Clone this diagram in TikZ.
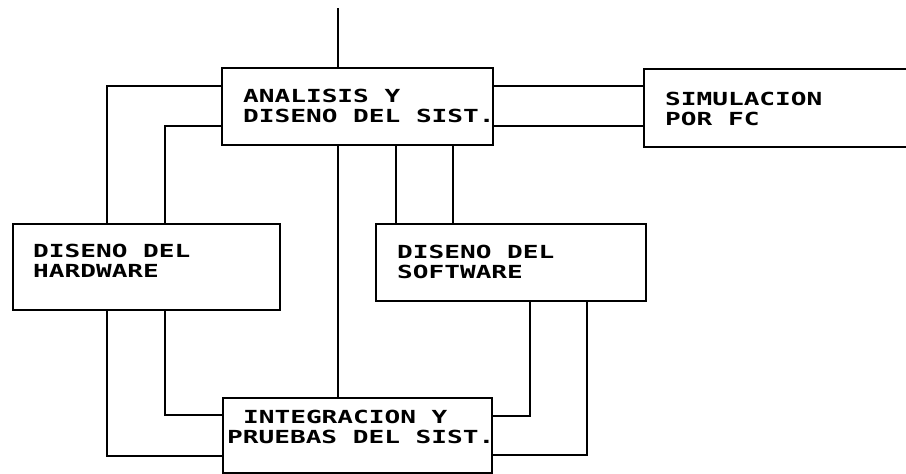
\documentclass[tikz,border=0pt]{standalone}
\usepackage{fontspec}
\newfontfamily\plotfont{DejaVu Sans Mono}
\newcommand\wide[1]{\scalebox{1.45}[1]{#1}}
\begin{document}
\begin{tikzpicture}[x=1pt,y=-1pt,
  box/.style={draw, line width=2.2pt, rectangle, inner sep=0pt, anchor=north west},
  lbl/.style={anchor=north west, inner sep=0pt, align=left,
              font=\plotfont\bfseries\fontsize{18}{20}\selectfont},
  wire/.style={line width=2.2pt}]
\clip (0,0) rectangle (906,474);
\fill[white] (0,0) rectangle (906,474);

% boxes
\node[box, minimum width=271pt, minimum height=77pt] (A) at (221,67) {};
\node[box, minimum width=272pt, minimum height=78pt] (S) at (643,68) {};
\node[box, minimum width=267pt, minimum height=86pt] (H) at (12,223) {};
\node[box, minimum width=270pt, minimum height=77pt] (W) at (375,223) {};
\node[box, minimum width=269pt, minimum height=75pt] (B) at (222,397) {};

% labels
\node[lbl] (tA) at (243,89) {\wide{ANALISIS Y}\\\wide{DISENO DEL SIST.}};
\node[lbl] (tS) at (665,92) {\wide{SIMULACION}\\\wide{POR FC}};
\node[lbl] (tH) at (33,244) {\wide{DISENO DEL}\\\wide{HARDWARE}};
\node[lbl] (tW) at (397,245) {\wide{DISENO DEL}\\\wide{SOFTWARE}};
\node[lbl] (tB) at (227,410) {\wide{\hspace*{11pt}INTEGRACION Y}\\\wide{PRUEBAS DEL SIST.}};

% guide coordinates
\coordinate (top) at (338,8);
\coordinate (g1) at (107,86);
\coordinate (g2) at (165,126);
\coordinate (g3) at (396,0);
\coordinate (g4) at (453,0);
\coordinate (g5) at (107,456);
\coordinate (g6) at (165,415);
\coordinate (g7) at (530,416);
\coordinate (g8) at (587,455);
\coordinate (gm) at (338,0);

% connectors
\draw[wire] (top) -- (A.north -| top);
\draw[wire] (A.west |- g1) -| (H.north -| g1);
\draw[wire] (A.west |- g2) -| (H.north -| g2);
\draw[wire] (A.east |- g1) -- (S.west |- g1);
\draw[wire] (A.east |- g2) -- (S.west |- g2);
\draw[wire] (A.south -| gm) -- (B.north -| gm);
\draw[wire] (A.south -| g3) -- (W.north -| g3);
\draw[wire] (A.south -| g4) -- (W.north -| g4);
\draw[wire] (H.south -| g5) |- (B.west |- g5);
\draw[wire] (H.south -| g6) |- (B.west |- g6);
\draw[wire] (W.south -| g7) |- (B.east |- g7);
\draw[wire] (W.south -| g8) |- (B.east |- g8);
\end{tikzpicture}
\end{document}
